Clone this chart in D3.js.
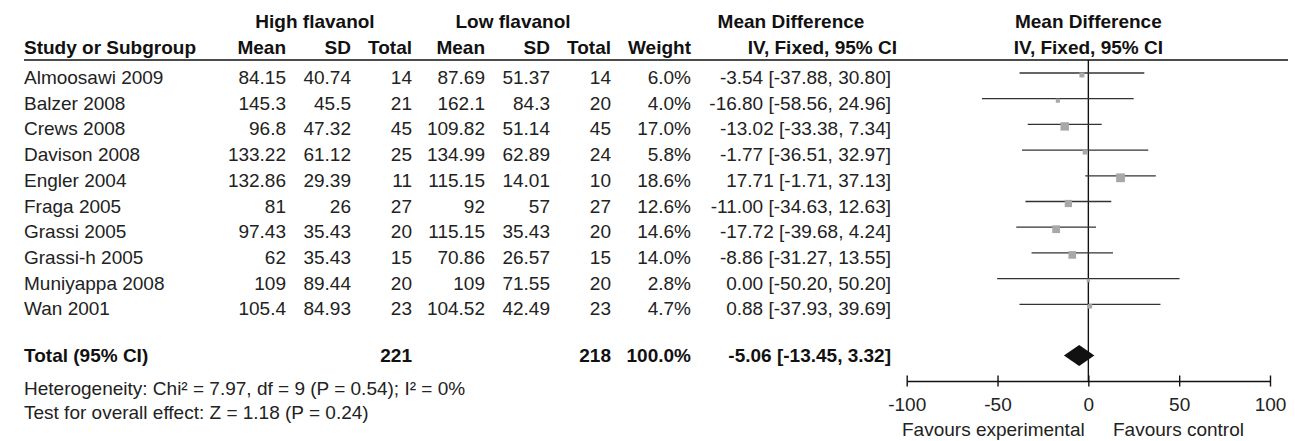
<!DOCTYPE html>
<html>
<head>
<meta charset="utf-8">
<script src="https://cdn.jsdelivr.net/npm/d3@7"></script>
<style>
  html, body { margin: 0; padding: 0; background: #fff; }
  svg { display: block; }
  text { font-family: "Liberation Sans", Arial, sans-serif; font-size: 19px; fill: #222; }
  .b { font-weight: bold; fill: #111; }
</style>
</head>
<body>
<svg id="chart" width="1295" height="441"></svg>
<script>
// Study-level data: high vs low flavanol
const studies   = ["Almoosawi 2009", "Balzer 2008", "Crews 2008", "Davison 2008", "Engler 2004",
                   "Fraga 2005", "Grassi 2005", "Grassi-h 2005", "Muniyappa 2008", "Wan 2001"];
const highMean  = ["84.15", "145.3", "96.8", "133.22", "132.86", "81", "97.43", "62", "109", "105.4"];
const highSD    = ["40.74", "45.5", "47.32", "61.12", "29.39", "26", "35.43", "35.43", "89.44", "84.93"];
const highN     = [14, 21, 45, 25, 11, 27, 20, 15, 20, 23];
const lowMean   = ["87.69", "162.1", "109.82", "134.99", "115.15", "92", "115.15", "70.86", "109", "104.52"];
const lowSD     = ["51.37", "84.3", "51.14", "62.89", "14.01", "57", "35.43", "26.57", "71.55", "42.49"];
const lowN      = [14, 20, 45, 24, 10, 27, 20, 15, 20, 23];
const weights   = [6.0, 4.0, 17.0, 5.8, 18.6, 12.6, 14.6, 14.0, 2.8, 4.7];
const meanDiff  = [-3.54, -16.80, -13.02, -1.77, 17.71, -11.00, -17.72, -8.86, 0.00, 0.88];
const ciLower   = [-37.88, -58.56, -33.38, -36.51, -1.71, -34.63, -39.68, -31.27, -50.20, -37.93];
const ciUpper   = [30.80, 24.96, 7.34, 32.97, 37.13, 12.63, 4.24, 13.55, 50.20, 39.69];

// Pooled estimate
const totalHighN = 221, totalLowN = 218, totalWeight = 100.0;
const pooledMD = -5.06, pooledLo = -13.45, pooledHi = 3.32;
const heterogeneityText = "Heterogeneity: Chi\u00B2 = 7.97, df = 9 (P = 0.54); I\u00B2 = 0%";
const overallText = "Test for overall effect: Z = 1.18 (P = 0.24)";

// Axis
const axisTicks = [-100, -50, 0, 50, 100];
const leftLabel = "Favours experimental", rightLabel = "Favours control";

const svg = d3.select("#chart");

// Layout
const ruleY = 60, rowY0 = 73, rowStep = 25.7, totalY = 355.5, axisY = 381;
const textDy = 11;
const x = d3.scaleLinear().domain([-100, 100]).range([906.7, 1270]);
const rowY = d3.scaleLinear().domain([0, 1]).range([rowY0, rowY0 + rowStep]);
const boxSide = d3.scaleSqrt().domain([0, 18.6]).range([0, 8.8]);

// Table columns (right-aligned edges)
const cols = [
  { x: 286, vals: highMean },
  { x: 351, vals: highSD },
  { x: 412, vals: highN },
  { x: 485, vals: lowMean },
  { x: 550, vals: lowSD },
  { x: 611, vals: lowN },
  { x: 691, vals: weights.map(w => w.toFixed(1) + "%") },
  { x: 891, vals: meanDiff.map((m, i) => `${m.toFixed(2)} [${ciLower[i].toFixed(2)}, ${ciUpper[i].toFixed(2)}]`) }
];

// Headers
const hdr = svg.append("g");
hdr.append("text").attr("class", "b").attr("x", 315).attr("y", 28).attr("text-anchor", "middle").text("High flavanol");
hdr.append("text").attr("class", "b").attr("x", 513).attr("y", 28).attr("text-anchor", "middle").text("Low flavanol");
hdr.append("text").attr("class", "b").attr("x", 791).attr("y", 28).attr("text-anchor", "middle").text("Mean Difference");
hdr.append("text").attr("class", "b").attr("x", x(0)).attr("y", 28).attr("text-anchor", "middle").text("Mean Difference");
hdr.append("text").attr("class", "b").attr("x", 24).attr("y", 54).text("Study or Subgroup");
const sub = ["Mean", "SD", "Total", "Mean", "SD", "Total", "Weight"];
sub.forEach((s, i) => {
  hdr.append("text").attr("class", "b").attr("x", cols[i].x).attr("y", 54).attr("text-anchor", "end").text(s);
});
hdr.append("text").attr("class", "b").attr("x", 897).attr("y", 54).attr("text-anchor", "end").text("IV, Fixed, 95% CI");
hdr.append("text").attr("class", "b").attr("x", x(0)).attr("y", 54).attr("text-anchor", "middle").text("IV, Fixed, 95% CI");

svg.append("line").attr("x1", 24).attr("x2", 1288).attr("y1", ruleY).attr("y2", ruleY)
  .attr("stroke", "#111").attr("stroke-width", 1.5);

// Study rows
const rows = svg.append("g").selectAll("g").data(studies).join("g");
rows.append("text").attr("x", 24).attr("y", (d, i) => rowY(i) + textDy).text(d => d);
cols.forEach(c => {
  rows.append("text").attr("x", c.x).attr("y", (d, i) => rowY(i) + textDy)
    .attr("text-anchor", "end").text((d, i) => c.vals[i]);
});

// Total row
const totBase = 362;
const tot = svg.append("g");
tot.append("text").attr("class", "b").attr("x", 24).attr("y", totBase).text("Total (95% CI)");
tot.append("text").attr("class", "b").attr("x", cols[2].x).attr("y", totBase).attr("text-anchor", "end").text(totalHighN);
tot.append("text").attr("class", "b").attr("x", cols[5].x).attr("y", totBase).attr("text-anchor", "end").text(totalLowN);
tot.append("text").attr("class", "b").attr("x", cols[6].x).attr("y", totBase).attr("text-anchor", "end").text(totalWeight.toFixed(1) + "%");
tot.append("text").attr("class", "b").attr("x", cols[7].x).attr("y", totBase).attr("text-anchor", "end")
  .text(`${pooledMD.toFixed(2)} [${pooledLo.toFixed(2)}, ${pooledHi.toFixed(2)}]`);

svg.append("text").attr("x", 24).attr("y", 395).text(heterogeneityText);
svg.append("text").attr("x", 24).attr("y", 419).text(overallText);

// Forest plot
const plot = svg.append("g");
plot.append("line").attr("x1", x(0)).attr("x2", x(0)).attr("y1", ruleY).attr("y2", axisY)
  .attr("stroke", "#111").attr("stroke-width", 1.4);

plot.selectAll(".ci").data(studies).join("line").attr("class", "ci")
  .attr("x1", (d, i) => x(ciLower[i])).attr("x2", (d, i) => x(ciUpper[i]))
  .attr("y1", (d, i) => rowY(i)).attr("y2", (d, i) => rowY(i))
  .attr("stroke", "#333").attr("stroke-width", 1.3);

plot.selectAll(".box").data(studies).join("rect").attr("class", "box")
  .attr("x", (d, i) => x(meanDiff[i]) - boxSide(weights[i]) / 2)
  .attr("y", (d, i) => rowY(i) + 2 - boxSide(weights[i]) / 2)
  .attr("width", (d, i) => boxSide(weights[i]))
  .attr("height", (d, i) => boxSide(weights[i]))
  .attr("fill", "#a8a8a8");

// Pooled diamond
const dh = 10.5;
plot.append("path")
  .attr("d", `M${x(pooledLo)},${totalY} L${x(pooledMD)},${totalY - dh} L${x(pooledHi)},${totalY} L${x(pooledMD)},${totalY + dh} Z`)
  .attr("fill", "#111");

// Axis
const axis = d3.axisBottom(x).tickValues(axisTicks).tickFormat(d => String(d))
  .tickSizeInner(0).tickSizeOuter(0).tickPadding(0);
const ag = svg.append("g").attr("transform", `translate(0,${axisY})`).call(axis);
ag.attr("font-size", null).attr("font-family", null);
ag.select(".domain").attr("stroke", "#111").attr("stroke-width", 1.4);
ag.selectAll(".tick line").attr("y1", -5.5).attr("y2", 5.5).attr("stroke", "#111").attr("stroke-width", 1.4);
ag.selectAll(".tick text").attr("y", 30).attr("dy", null).attr("fill", "#222");

svg.append("text").attr("x", 902).attr("y", 436).text(leftLabel);
svg.append("text").attr("x", 1113).attr("y", 436).text(rightLabel);
</script>
</body>
</html>
